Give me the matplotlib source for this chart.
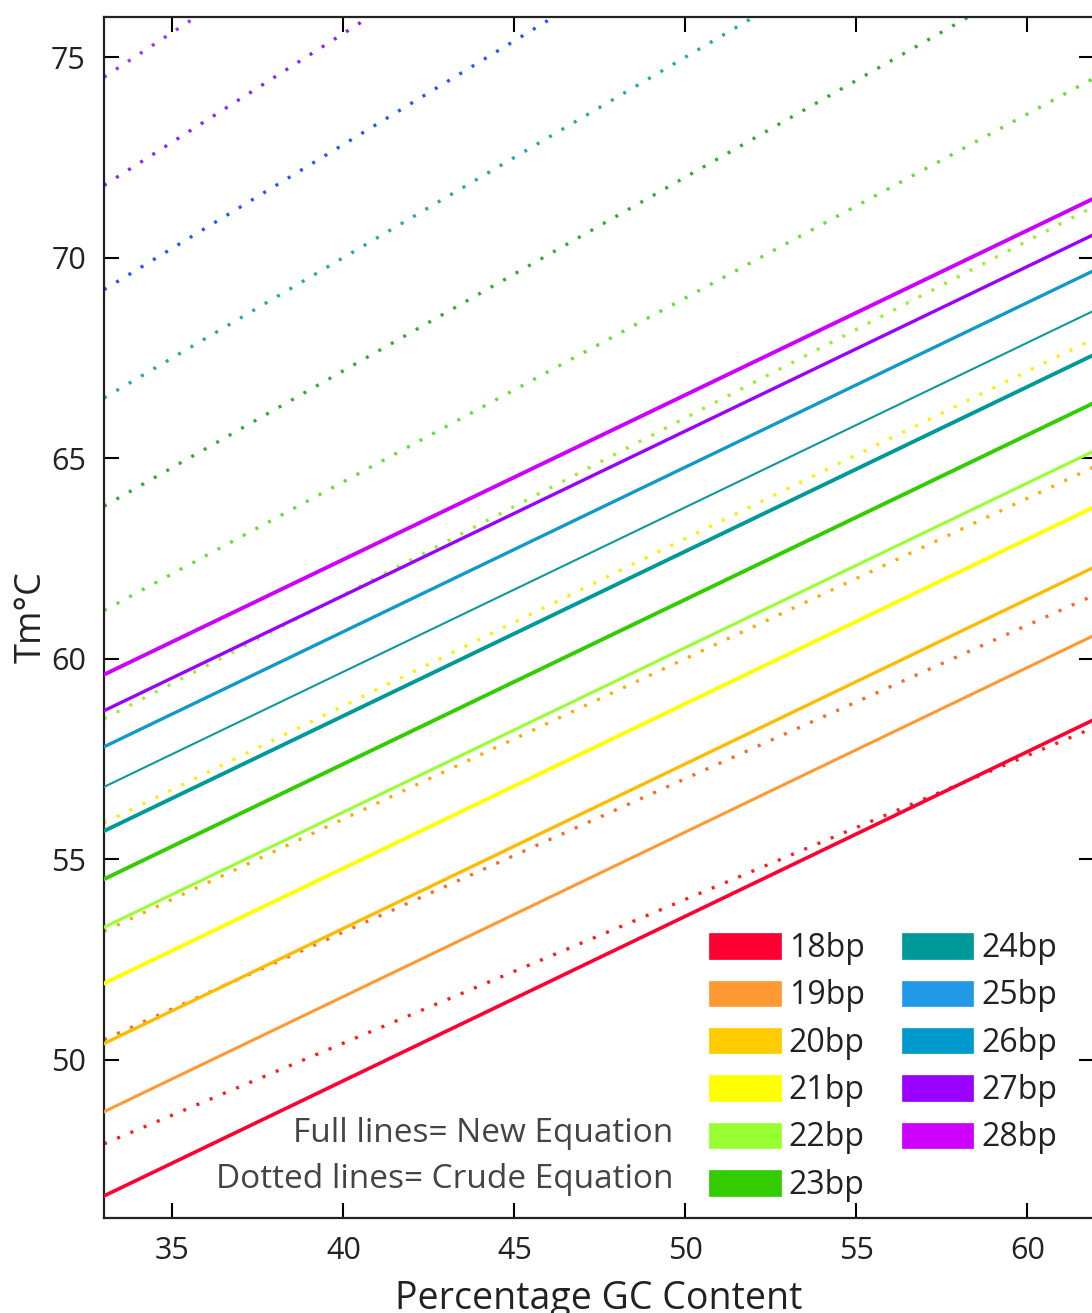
import matplotlib
matplotlib.use("Agg")
import matplotlib.pyplot as plt
from matplotlib.patches import Patch

plt.rcParams['font.family'] = ['Open Sans', 'DejaVu Sans']

# Data
lengths = ["18bp", "19bp", "20bp", "21bp", "22bp", "23bp", "24bp", "25bp", "26bp", "27bp", "28bp"]
gc_ends = [33.0, 62.0]
# New equation (full lines): Tm at GC=33 and GC=62
new_start = [46.6, 48.7, 50.4, 51.9, 53.3, 54.5, 55.7, 56.8, 57.8, 58.7, 59.6]
new_end = [58.5, 60.6, 62.3, 63.8, 65.2, 66.4, 67.6, 68.7, 69.7, 70.6, 71.5]
# Crude equation (dotted lines): Tm at GC=33 and GC=62
crude_start = [47.9, 50.5, 53.2, 55.9, 58.5, 61.2, 63.8, 66.5, 69.2, 71.8, 74.5]
crude_end = [58.3, 61.6, 64.8, 68.0, 71.3, 74.5, 77.8, 81.0, 84.2, 87.5, 90.7]

legend_colors = ["#ff0033", "#ff9933", "#ffcc00", "#ffff00", "#99ff33", "#33cc00",
                 "#009999", "#2299e6", "#0099cc", "#9900ff", "#cc00ff"]
full_colors = ["#ff0033", "#ff9933", "#ffbb00", "#ffff00", "#99ff33", "#33cc00",
               "#009999", "#119999", "#1199cc", "#9900ff", "#cc00ff"]
full_widths = [2.6, 2.2, 2.4, 2.8, 2.2, 2.8, 2.8, 1.5, 2.4, 2.4, 2.8]
dot_colors = ["#ff1a1a", "#ff6622", "#ffaa00", "#ffee00", "#99ee33", "#66dd33",
              "#33aa33", "#22aaaa", "#2255ff", "#8822ff", "#9933ff"]

fig = plt.figure(figsize=(10.92, 13.13), dpi=100)
ax = fig.add_axes([104/1092, 1 - 1218/1313, 1 - 104/1092 + 0.002, (1218 - 17)/1313])

for i in range(len(lengths)):
    ax.plot(gc_ends, [crude_start[i], crude_end[i]], color=dot_colors[i],
            lw=2.4, linestyle=(0, (0.9, 3.4)), solid_capstyle='butt', zorder=2)
for i in range(len(lengths)):
    ax.plot(gc_ends, [new_start[i], new_end[i]], color=full_colors[i],
            lw=full_widths[i], zorder=3)

ax.set_xlim(33.0, 61.95)
ax.set_ylim(46.05, 76.0)
ax.set_xticks([35, 40, 45, 50, 55, 60])
ax.set_yticks([50, 55, 60, 65, 70, 75])
ax.tick_params(direction='in', length=11, width=1.5, top=True, right=True,
               labelsize=22, labelcolor='#222222', pad=13)
for s in ax.spines.values():
    s.set_linewidth(1.6)
    s.set_color('#222222')

ax.set_xlabel("Percentage GC Content", fontsize=27, color='#222222', labelpad=10)
ax.set_ylabel("Tm°C", fontsize=26, color='#222222', labelpad=1)

ax.text(673/1092, 1 - 1133/1313, "Full lines= New Equation", transform=fig.transFigure,
        ha='right', va='center', fontsize=24, color='#444444')
ax.text(673/1092, 1 - 1180/1313, "Dotted lines= Crude Equation", transform=fig.transFigure,
        ha='right', va='center', fontsize=24, color='#444444')

handles = [Patch(facecolor=c, edgecolor=c, lw=0.5) for c in legend_colors]
leg = fig.legend(handles, lengths, loc='upper left',
                 bbox_to_anchor=(709/1092, 1 - 932/1313), ncol=2, frameon=False,
                 fontsize=23, handlelength=2.25, handleheight=0.85, handletextpad=0.25,
                 labelspacing=0.45, columnspacing=1.15, borderaxespad=0, borderpad=0)
for t in leg.get_texts():
    t.set_color('#222222')

fig.savefig("out.png", dpi=100)
